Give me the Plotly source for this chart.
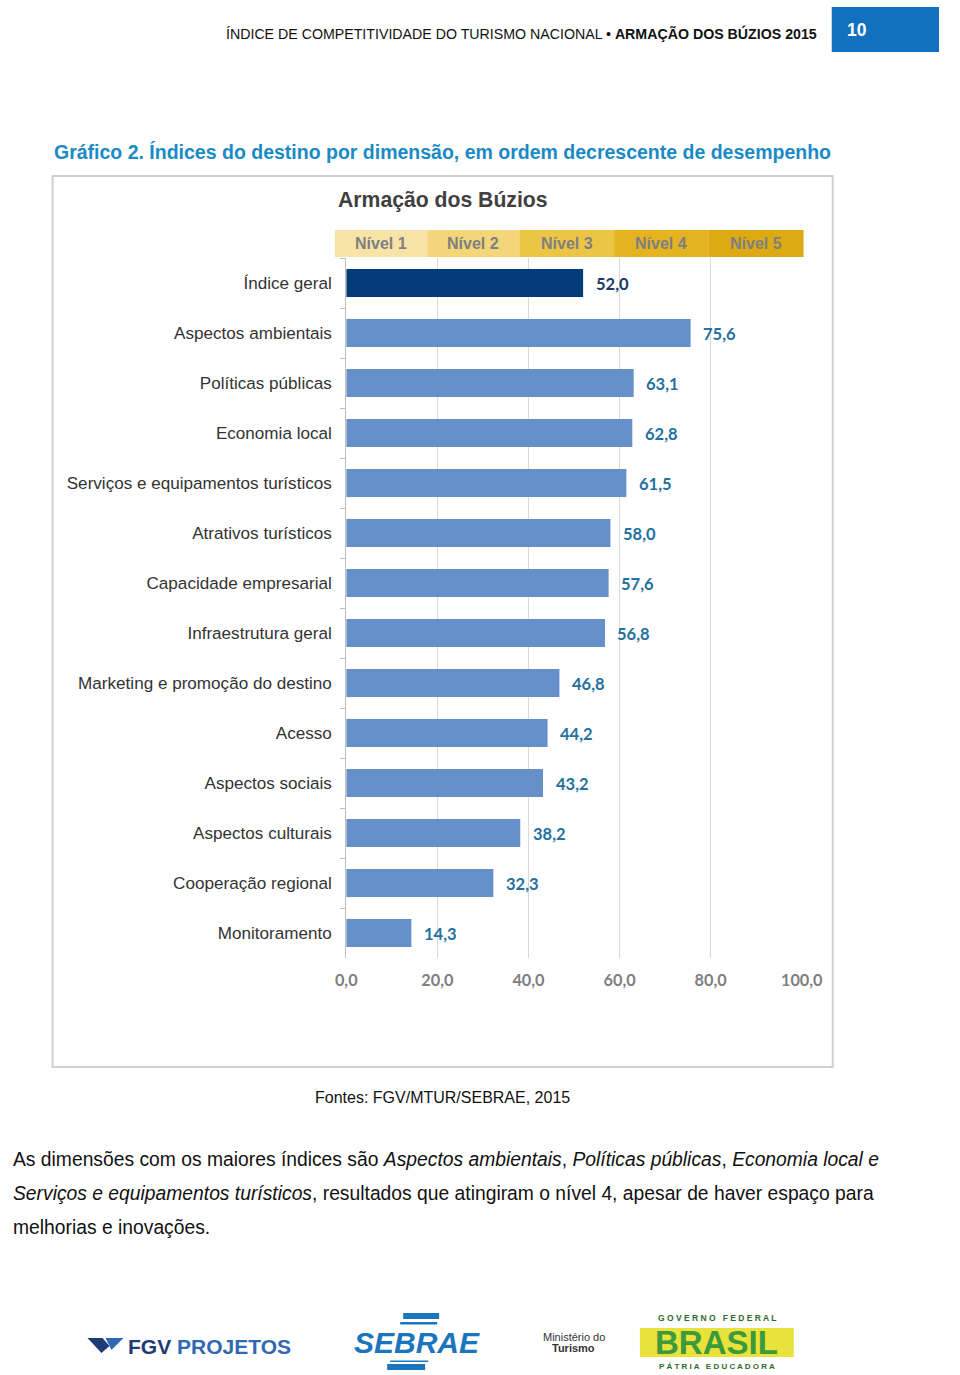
import plotly.graph_objects as go

W, H = 960, 1375

categories = ["Índice geral", "Aspectos ambientais", "Políticas públicas", "Economia local",
              "Serviços e equipamentos turísticos", "Atrativos turísticos", "Capacidade empresarial",
              "Infraestrutura geral", "Marketing e promoção do destino", "Acesso", "Aspectos sociais",
              "Aspectos culturais", "Cooperação regional", "Monitoramento"]
values = [52.0, 75.6, 63.1, 62.8, 61.5, 58.0, 57.6, 56.8, 46.8, 44.2, 43.2, 38.2, 32.3, 14.3]
value_labels = ["52,0", "75,6", "63,1", "62,8", "61,5", "58,0", "57,6", "56,8", "46,8", "44,2",
                "43,2", "38,2", "32,3", "14,3"]
x_ticks = [0, 20, 40, 60, 80, 100]
x_tick_labels = ["0,0", "20,0", "40,0", "60,0", "80,0", "100,0"]
level_names = ["Nível 1", "Nível 2", "Nível 3", "Nível 4", "Nível 5"]
level_limits = [-2.5, 17.8, 38.0, 58.8, 79.6, 100.4]
level_colors = ["#F8E4A6", "#F4D67A", "#EDC545", "#E4B420", "#DEAA12"]

ARIAL = "Liberation Sans, Arial"
CAL = "Lato, Carlito, Calibri, sans-serif"

# horizontal calibration of the photographed page (observed offset and scale)
A_OFF, S_SC = 11.4, 0.9677


def px(x):
    """target pixel x -> paper fraction, compensating the observed horizontal mapping"""
    return max(0.0, min(1.0, (x - A_OFF) / S_SC / W))


def py(y):
    return 1 - y / H


def fs(s):
    return round(s / S_SC, 2)


X0, X1 = 347, 803
Y0, Y1 = 258, 958
xdom = [px(X0), px(X1)]
ydom = [py(Y1), py(Y0)]


def vx(v):
    return xdom[0] + (v - x_ticks[0]) / (x_ticks[-1] - x_ticks[0]) * (xdom[1] - xdom[0])


bar_colors = ["#033A78"] + ["#6690C9"] * (len(values) - 1)
label_colors = ["#1B3A68"] + ["#2471A0"] * (len(values) - 1)

fig = go.Figure()
fig.add_trace(go.Bar(
    x=values, y=categories, orientation="h",
    marker=dict(color=bar_colors, line=dict(width=0)),
    width=0.56, hoverinfo="skip",
))

annotations = []
for c, v, t, col in zip(categories, values, value_labels, label_colors):
    annotations.append(dict(x=v, y=c, xref="x", yref="y", text=t, showarrow=False,
                            xanchor="left", xshift=10.5, yshift=-1,
                            font=dict(family=CAL, size=fs(16), color=col, weight="bold")))

shapes = []
# chart frame
shapes.append(dict(type="rect", xref="paper", yref="paper", x0=px(53), x1=px(834),
                   y0=py(1067), y1=py(176), line=dict(color="#CFCFCF", width=2),
                   fillcolor="rgba(0,0,0,0)", layer="below"))
# header blue box
shapes.append(dict(type="rect", xref="paper", yref="paper", x0=px(833), x1=1.0,
                   y0=py(52), y1=py(7), line=dict(width=0), fillcolor="#1271BE"))
# level band
for i, name in enumerate(level_names):
    a, b = level_limits[i], level_limits[i + 1]
    shapes.append(dict(type="rect", xref="paper", yref="paper", x0=vx(a), x1=vx(b),
                       y0=py(257), y1=py(230), line=dict(width=0), fillcolor=level_colors[i]))
    annotations.append(dict(x=(vx(a) + vx(b)) / 2, y=py(243), xref="paper", yref="paper",
                            text=name, showarrow=False, xanchor="center", yanchor="middle",
                            font=dict(family=ARIAL, size=16, color="#7F7F7F", weight="bold")))

annotations.append(dict(x=px(820), y=py(34), xref="paper", yref="paper", showarrow=False,
                        xanchor="right", yanchor="middle",
                        text="ÍNDICE DE COMPETITIVIDADE DO TURISMO NACIONAL • <b>ARMAÇÃO DOS BÚZIOS 2015</b>",
                        font=dict(family=ARIAL, size=14.2, color="#111111")))
annotations.append(dict(x=px(846), y=py(30), xref="paper", yref="paper", showarrow=False,
                        xanchor="left", yanchor="middle", text="<b>10</b>",
                        font=dict(family=ARIAL, size=17.5, color="white")))
annotations.append(dict(x=px(52), y=py(152), xref="paper", yref="paper", showarrow=False,
                        xanchor="left", yanchor="middle",
                        text="<b>Gráfico 2. Índices do destino por dimensão, em ordem decrescente de desempenho</b>",
                        font=dict(family=ARIAL, size=19.5, color="#1A8AC6")))
annotations.append(dict(x=px(337), y=py(200), xref="paper", yref="paper", showarrow=False,
                        xanchor="left", yanchor="middle", text="<b>Armação dos Búzios</b>",
                        font=dict(family=ARIAL, size=21.2, color="#404040")))
annotations.append(dict(x=px(443), y=py(1097), xref="paper", yref="paper", showarrow=False,
                        xanchor="center", yanchor="middle", text="Fontes: FGV/MTUR/SEBRAE, 2015",
                        font=dict(family=ARIAL, size=16, color="#111111")))

para = [
    "As dimensões com os maiores índices são <i>Aspectos ambientais</i>, <i>Políticas públicas</i>, <i>Economia local e</i>",
    "<i>Serviços e equipamentos turísticos</i>, resultados que atingiram o nível 4, apesar de haver espaço para",
    "melhorias e inovações.",
]
for i, line in enumerate(para):
    annotations.append(dict(x=px(3), y=py(1159 + 34 * i), xref="paper", yref="paper", showarrow=False,
                            xanchor="left", yanchor="middle", text=line,
                            font=dict(family=ARIAL, size=19.3, color="#111111")))

# logos (approximate)
shapes.append(dict(type="path", xref="paper", yref="paper",
                   path=f"M {px(88)},{py(1338)} L {px(103)},{py(1338)} L {px(110)},{py(1346)} L {px(102)},{py(1353)} Z",
                   fillcolor="#1D3A74", line=dict(width=0)))
shapes.append(dict(type="path", xref="paper", yref="paper",
                   path=f"M {px(106)},{py(1338)} L {px(124)},{py(1338)} L {px(112)},{py(1350)} Z",
                   fillcolor="#2F68B4", line=dict(width=0)))
annotations.append(dict(x=px(127), y=py(1346), xref="paper", yref="paper", showarrow=False,
                        xanchor="left", yanchor="middle",
                        text="<b><span style='color:#1D3A74'>FGV</span> PROJETOS</b>",
                        font=dict(family=ARIAL, size=21, color="#2F68B4")))
for (y0, y1, xa, xb) in [(1313, 1319, 404, 440), (1322, 1328, 401, 438), (1331, 1337, 398, 436),
                         (1347, 1353, 394, 432), (1356, 1362, 391, 429), (1364, 1370, 388, 426)]:
    shapes.append(dict(type="rect", xref="paper", yref="paper", x0=px(xa), x1=px(xb),
                       y0=py(y1), y1=py(y0), fillcolor="#1B75BC", line=dict(width=0)))
annotations.append(dict(x=px(418), y=py(1342), xref="paper", yref="paper", showarrow=False,
                        xanchor="center", yanchor="middle", text="<b><i>SEBRAE</i></b>",
                        font=dict(family=ARIAL, size=30, color="#1B75BC"), bgcolor="white"))
annotations.append(dict(x=px(575), y=py(1337), xref="paper", yref="paper", showarrow=False,
                        xanchor="center", yanchor="middle", text="Ministério do",
                        font=dict(family=ARIAL, size=11, color="#333333")))
annotations.append(dict(x=px(575), y=py(1348), xref="paper", yref="paper", showarrow=False,
                        xanchor="center", yanchor="middle", text="<b>Turismo</b>",
                        font=dict(family=ARIAL, size=11, color="#333333")))
shapes.append(dict(type="rect", xref="paper", yref="paper", x0=px(641), x1=px(795),
                   y0=py(1357), y1=py(1328), fillcolor="#E9E23A", line=dict(width=0), layer="below"))
annotations.append(dict(x=px(718), y=py(1318), xref="paper", yref="paper", showarrow=False,
                        xanchor="center", yanchor="middle", text="<b>G O V E R N O   F E D E R A L</b>",
                        font=dict(family=ARIAL, size=8.5, color="#2E6B2E")))
annotations.append(dict(x=px(718), y=py(1342), xref="paper", yref="paper", showarrow=False,
                        xanchor="center", yanchor="middle", text="<b>BRASIL</b>",
                        font=dict(family=ARIAL, size=33, color="#3C9A3C")))
annotations.append(dict(x=px(718), y=py(1366), xref="paper", yref="paper", showarrow=False,
                        xanchor="center", yanchor="middle", text="<b>P Á T R I A   E D U C A D O R A</b>",
                        font=dict(family=ARIAL, size=8, color="#2E6B2E")))

fig.update_layout(
    width=W, height=H, margin=dict(l=0, r=0, t=0, b=0),
    paper_bgcolor="white", plot_bgcolor="white", showlegend=False,
    bargap=0.44,
    xaxis=dict(domain=xdom, range=[x_ticks[0], x_ticks[-1]], tickvals=x_ticks, ticktext=x_tick_labels,
               showgrid=True, gridcolor="#D9D9D9", gridwidth=1, zeroline=False, showline=False,
               ticks="", ticklabelstandoff=11,
               tickfont=dict(family=CAL, size=16.3, color="#808080", weight="bold"), fixedrange=True),
    yaxis=dict(domain=ydom, range=[len(categories) - 0.5, -0.5], type="category",
               categoryorder="array", categoryarray=categories,
               showline=True, linecolor="#BFBFBF", linewidth=1, ticks="outside", ticklen=5,
               tickcolor="#BFBFBF", tickson="boundaries", showgrid=False, ticklabelstandoff=10,
               tickfont=dict(family=ARIAL, size=17.1, color="#333333"), fixedrange=True),
    shapes=shapes, annotations=annotations,
)

post = (
    "document.body.style.margin='0';document.body.style.padding='0';"
    "document.documentElement.style.overflow='hidden';document.body.style.overflow='hidden';"
)

fig.write_html("out.html", include_plotlyjs=True, config={"displayModeBar": False}, post_script=post)
